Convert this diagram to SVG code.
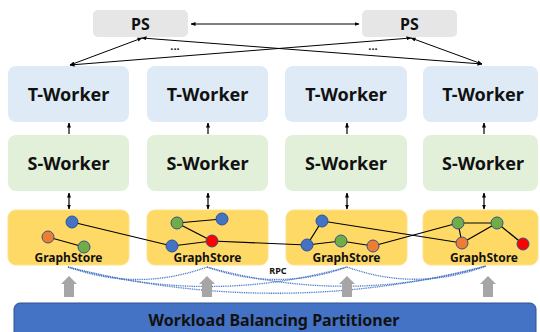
<svg xmlns="http://www.w3.org/2000/svg" width="540" height="332" viewBox="0 0 540 332">
<defs>
<marker id="ah" viewBox="0 0 10 10" refX="9" refY="5" markerWidth="5" markerHeight="5" orient="auto-start-reverse" markerUnits="userSpaceOnUse">
<path d="M0,1 L10,5 L0,9 z" fill="#000"/>
</marker>
<style>
.ps{fill:#E7E6E6}
.tw{fill:#DEEBF7}
.sw{fill:#E2F0D9}
.gs{fill:#FFD966;stroke:#FFE08A;stroke-width:1}
.lbl{font-family:"Noto Sans","Liberation Sans",sans-serif;font-weight:bold;fill:#111;text-anchor:middle}
.big{font-size:18px}
.gsl{font-size:12px}
.ln{stroke:#000;stroke-width:1;fill:none}
.arr{stroke:#000;stroke-width:1.2;fill:none}
.edge{stroke:#000;stroke-width:1.2;fill:none}
.nb{fill:#4472C4;stroke:#2F528F;stroke-width:1}
.no{fill:#ED7D31;stroke:#2F528F;stroke-width:1}
.ng{fill:#70AD47;stroke:#2F528F;stroke-width:1}
.nr{fill:#FF0000;stroke:#2F528F;stroke-width:1}
.rpc{stroke:#4472C4;stroke-width:1.3;fill:none;stroke-dasharray:1 0.8}
.up{fill:#A6A6A6}
</style>
</defs>

<g id="ps-left"><rect class="ps" x="93" y="10" width="95" height="27" rx="5"/><text class="lbl" x="140.5" y="30" font-size="16">PS</text></g>
<g id="ps-right"><rect class="ps" x="362" y="10" width="95" height="27" rx="5"/><text class="lbl" x="409.5" y="30" font-size="16">PS</text></g>

<g id="tworker-1"><rect class="tw" x="8" y="66" width="121" height="56" rx="8"/><text class="lbl big" x="68.5" y="100.5">T-Worker</text></g>
<g id="tworker-2"><rect class="tw" x="147" y="66" width="121" height="56" rx="8"/><text class="lbl big" x="207.5" y="100.5">T-Worker</text></g>
<g id="tworker-3"><rect class="tw" x="285" y="66" width="122" height="56" rx="8"/><text class="lbl big" x="346" y="100.5">T-Worker</text></g>
<g id="tworker-4"><rect class="tw" x="423" y="66" width="115" height="56" rx="8"/><text class="lbl big" x="483" y="100.5">T-Worker</text></g>

<g id="sworker-1"><rect class="sw" x="8" y="135" width="121" height="56" rx="8"/><text class="lbl big" x="68.5" y="169.5">S-Worker</text></g>
<g id="sworker-2"><rect class="sw" x="147" y="135" width="121" height="56" rx="8"/><text class="lbl big" x="207.5" y="169.5">S-Worker</text></g>
<g id="sworker-3"><rect class="sw" x="285" y="135" width="122" height="56" rx="8"/><text class="lbl big" x="346" y="169.5">S-Worker</text></g>
<g id="sworker-4"><rect class="sw" x="423" y="135" width="115" height="56" rx="8"/><text class="lbl big" x="483" y="169.5">S-Worker</text></g>

<g id="graphstore-1"><rect class="gs" x="8" y="210" width="121" height="55" rx="8"/><text class="lbl gsl" x="68.5" y="261.5">GraphStore</text></g>
<g id="graphstore-2"><rect class="gs" x="147" y="210" width="121" height="55" rx="8"/><text class="lbl gsl" x="207.5" y="261.5">GraphStore</text></g>
<g id="graphstore-3"><rect class="gs" x="286" y="210" width="121" height="55" rx="8"/><text class="lbl gsl" x="346.5" y="261.5">GraphStore</text></g>
<g id="graphstore-4"><rect class="gs" x="423" y="210" width="115" height="55" rx="8"/><text class="lbl gsl" x="484" y="261.5">GraphStore</text></g>

<g id="connectors">
<line class="ln" x1="191" y1="24" x2="359" y2="24" marker-start="url(#ah)" marker-end="url(#ah)"/>
<line class="ln" x1="142" y1="38" x2="70" y2="65" marker-start="url(#ah)" marker-end="url(#ah)"/>
<line class="ln" x1="142" y1="38" x2="482" y2="64" marker-start="url(#ah)" marker-end="url(#ah)"/>
<line class="ln" x1="411" y1="38" x2="70" y2="65" marker-start="url(#ah)" marker-end="url(#ah)"/>
<line class="ln" x1="411" y1="38" x2="482" y2="64" marker-start="url(#ah)" marker-end="url(#ah)"/>

<line class="arr" x1="69" y1="134" x2="69" y2="123" marker-end="url(#ah)"/>
<line class="arr" x1="208" y1="134" x2="208" y2="123" marker-end="url(#ah)"/>
<line class="arr" x1="347" y1="134" x2="347" y2="123" marker-end="url(#ah)"/>
<line class="arr" x1="484" y1="134" x2="484" y2="123" marker-end="url(#ah)"/>

<line class="arr" x1="69" y1="193" x2="69" y2="209" marker-start="url(#ah)" marker-end="url(#ah)"/>
<line class="arr" x1="208" y1="193" x2="208" y2="209" marker-start="url(#ah)" marker-end="url(#ah)"/>
<line class="arr" x1="347" y1="193" x2="347" y2="209" marker-start="url(#ah)" marker-end="url(#ah)"/>
<line class="arr" x1="484" y1="193" x2="484" y2="209" marker-start="url(#ah)" marker-end="url(#ah)"/>

<!-- graph edges -->
<line class="edge" x1="48" y1="237" x2="84" y2="247"/>
<line class="edge" x1="72" y1="222" x2="172" y2="246"/>
<line class="edge" x1="177" y1="223" x2="222" y2="219"/>
<line class="edge" x1="177" y1="223" x2="212" y2="241"/>
<line class="edge" x1="172" y1="246" x2="212" y2="241"/>
<line class="edge" x1="212" y1="241" x2="307" y2="245"/>
<line class="edge" x1="322" y1="221" x2="307" y2="245"/>
<line class="edge" x1="307" y1="245" x2="341" y2="241"/>
<line class="edge" x1="341" y1="241" x2="373" y2="246"/>
<line class="edge" x1="373" y1="246" x2="458" y2="223"/>
<line class="edge" x1="322" y1="221" x2="462" y2="243"/>
<line class="edge" x1="458" y1="223" x2="497" y2="223"/>
<line class="edge" x1="458" y1="223" x2="462" y2="243"/>
<line class="edge" x1="462" y1="243" x2="497" y2="223"/>
<line class="edge" x1="497" y1="223" x2="523" y2="244"/>

<!-- RPC curves -->
<path class="rpc" d="M68,267 Q138,292 207,267"/>
<path class="rpc" d="M68,267 Q208,306 347,267"/>
<path class="rpc" d="M68,267 Q277,320 486,266"/>
<path class="rpc" d="M207,267 Q277,292 347,267"/>
<path class="rpc" d="M207,267 Q347,306 486,266"/>
<path class="rpc" d="M347,267 Q416,292 486,266"/>
</g>

<g id="graph-nodes">
<circle class="nb" cx="72" cy="222" r="6"/>
<circle class="no" cx="48" cy="237" r="6"/>
<circle class="ng" cx="84" cy="247" r="6"/>
<circle class="ng" cx="177" cy="223" r="6"/>
<circle class="nb" cx="222" cy="219" r="6"/>
<circle class="nr" cx="212" cy="241" r="6"/>
<circle class="nb" cx="172" cy="246" r="6"/>
<circle class="nb" cx="322" cy="221" r="6"/>
<circle class="nb" cx="307" cy="245" r="6"/>
<circle class="ng" cx="341" cy="241" r="6"/>
<circle class="no" cx="373" cy="246" r="6"/>
<circle class="ng" cx="458" cy="223" r="6"/>
<circle class="ng" cx="497" cy="223" r="6"/>
<circle class="no" cx="462" cy="243" r="6"/>
<circle class="nr" cx="523" cy="244" r="6"/>
</g>

<g id="labels">
<text class="lbl" x="175" y="50" font-size="11">...</text>
<text class="lbl" x="373" y="50" font-size="11">...</text>
<text class="lbl" x="278" y="274" font-size="9">RPC</text>
</g>

<g id="load-arrows">
<path class="up" d="M64,297 V284 H61 L69,276 L77,284 H74 V297 z"/>
<path class="up" d="M202,297 V284 H199 L207,276 L215,284 H212 V297 z"/>
<path class="up" d="M342,297 V284 H339 L347,276 L355,284 H352 V297 z"/>
<path class="up" d="M483,297 V284 H480 L488,276 L496,284 H493 V297 z"/>
</g>

<g id="partitioner">
<rect x="14" y="303" width="522" height="40" rx="6" fill="#4472C4" stroke="#2F528F" stroke-width="1"/>
<text class="lbl" x="274" y="326" font-size="16">Workload Balancing Partitioner</text>
</g>
</svg>
